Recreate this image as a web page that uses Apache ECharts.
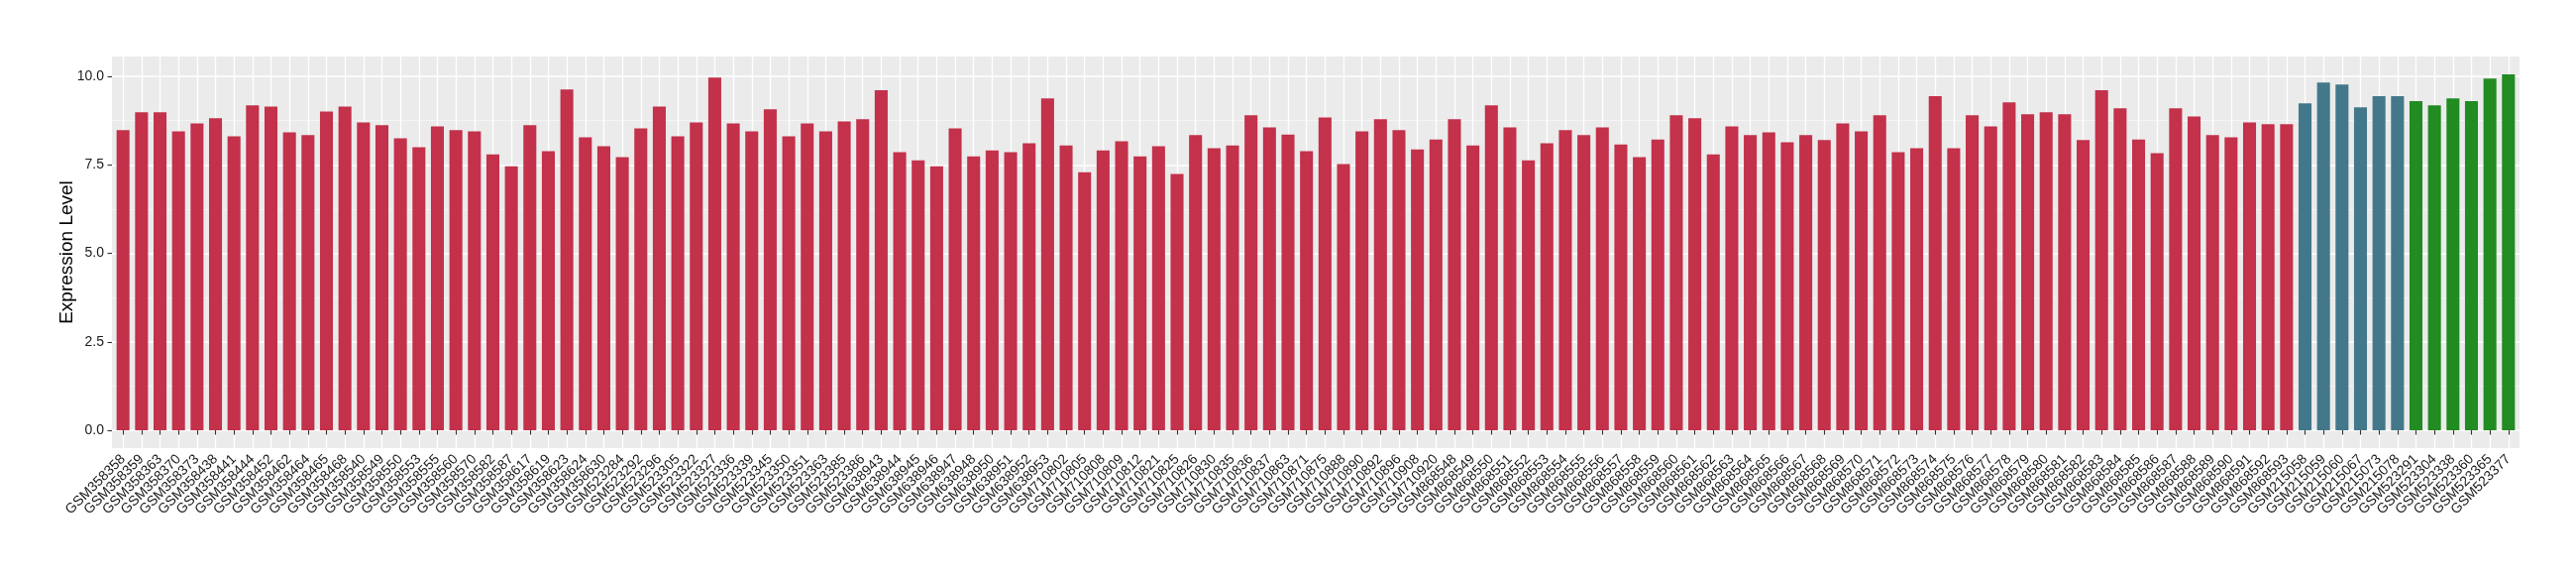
<!DOCTYPE html>
<html>
<head>
<meta charset="utf-8">
<script src="https://cdn.jsdelivr.net/npm/echarts@6/dist/echarts.min.js"></script>
<style>
html,body{margin:0;padding:0;background:#fff;}
#chart{width:2600px;height:580px;}
</style>
</head>
<body>
<div id="chart"></div>
<script>
const categories = [
 "GSM358358","GSM358359","GSM358363","GSM358370","GSM358373","GSM358438","GSM358441","GSM358444","GSM358452","GSM358462",
 "GSM358464","GSM358465","GSM358468","GSM358540","GSM358549","GSM358550","GSM358553","GSM358555","GSM358560","GSM358570",
 "GSM358582","GSM358587","GSM358617","GSM358619","GSM358623","GSM358624","GSM358630",
 "GSM523284","GSM523292","GSM523296","GSM523305","GSM523322","GSM523327","GSM523336","GSM523339","GSM523345","GSM523350",
 "GSM523351","GSM523363","GSM523385","GSM523386",
 "GSM638943","GSM638944","GSM638945","GSM638946","GSM638947","GSM638948","GSM638950","GSM638951","GSM638952","GSM638953",
 "GSM710802","GSM710805","GSM710808","GSM710809","GSM710812","GSM710821","GSM710825","GSM710826","GSM710830","GSM710835",
 "GSM710836","GSM710837","GSM710863","GSM710871","GSM710875","GSM710888","GSM710890","GSM710892","GSM710896","GSM710908","GSM710920",
 "GSM868548","GSM868549","GSM868550","GSM868551","GSM868552","GSM868553","GSM868554","GSM868555","GSM868556","GSM868557",
 "GSM868558","GSM868559","GSM868560","GSM868561","GSM868562","GSM868563","GSM868564","GSM868565","GSM868566","GSM868567",
 "GSM868568","GSM868569","GSM868570","GSM868571","GSM868572","GSM868573","GSM868574","GSM868575","GSM868576","GSM868577",
 "GSM868578","GSM868579","GSM868580","GSM868581","GSM868582","GSM868583","GSM868584","GSM868585","GSM868586","GSM868587",
 "GSM868588","GSM868589","GSM868590","GSM868591","GSM868592","GSM868593",
 "GSM215058","GSM215059","GSM215060","GSM215067","GSM215073","GSM215078",
 "GSM523291","GSM523304","GSM523338","GSM523360","GSM523365","GSM523377"
];
const values = [
 8.48,8.99,8.99,8.45,8.67,8.82,8.31,9.18,9.15,8.42,8.34,9.01,9.15,8.70,8.62,8.25,8.00,8.59,8.48,8.45,7.80,7.46,8.62,7.89,9.63,8.28,
 8.03,7.72,8.53,9.15,8.31,8.70,9.97,8.67,8.45,9.07,8.31,8.67,8.45,8.73,8.79,9.61,7.86,7.63,7.46,8.53,7.74,7.91,7.86,8.11,9.38,8.05,
 7.29,7.91,8.17,7.74,8.03,7.24,8.34,7.97,8.05,8.90,8.56,8.36,7.89,8.84,7.52,8.45,8.79,8.48,7.94,8.22,8.79,8.05,9.18,8.56,7.63,8.11,
 8.48,8.34,8.56,8.08,7.72,8.22,8.90,8.82,7.80,8.59,8.34,8.42,8.14,8.34,8.20,8.67,8.45,8.90,7.86,7.97,9.44,7.97,8.90,8.59,9.27,8.93,8.99,
 8.93,8.20,9.61,9.10,8.22,7.83,9.10,8.87,8.34,8.28,8.70,8.65,8.65,
 9.24,9.83,9.77,9.13,9.44,9.44,
 9.30,9.18,9.38,9.30,9.94,10.06
];
// number of bars in each colour group, in order: 118 red, 6 blue, 6 green
const groupSizes = [118, 6, 6];
const groupColors = ["#C3314A", "#43788B", "#228B22"];
const yTickMin = 0, yTickMax = 10, yTickStep = 2.5;

const groups = [];
groupSizes.forEach((n, g) => { for (let i = 0; i < n; i++) groups.push(g); });

const n = categories.length;
const dataMax = Math.max(...values);
const expand = dataMax * 0.05;
const yMin = -expand, yMax = dataMax + expand;
const xMin = -0.6, xMax = n - 1 + 0.6;
const xIdx = categories.map((c, i) => i);
// label slots: blank guard labels at both ends (hidden as min/max labels)
const xLabelSlots = [xMin].concat(xIdx, [xMax]);

const W = 2600, Hc = 580;
const gLeft = 113, gRight = 57, gTop = 57, gBottom = 128;
const gH = Hc - gTop - gBottom;
const yPix = v => gTop + (yMax - v) / (yMax - yMin) * gH;
// overlay grid spanning exactly the tick range [0, 10] of the same y scale
const oTop = yPix(yTickMax);
const oBottom = Hc - yPix(yTickMin);

const chart = echarts.init(document.getElementById('chart'), null, {renderer: 'canvas'});
const FONT = '"Liberation Sans", Arial, Helvetica, sans-serif';

chart.setOption({
  animation: false,
  backgroundColor: '#ffffff',
  grid: [{
    left: gLeft, right: gRight, top: gTop, bottom: gBottom,
    show: true, backgroundColor: '#EBEBEB', borderWidth: 0,
    containLabel: false, outerBoundsMode: 'none'
  }, {
    left: gLeft, right: gRight, top: oTop, bottom: oBottom,
    show: false, containLabel: false, outerBoundsMode: 'none'
  }],
  xAxis: [{
    gridIndex: 0,
    type: 'value',
    min: xMin, max: xMax,
    axisLine: {show: false},
    axisTick: {show: true, customValues: xIdx, length: 4.5, lineStyle: {color: '#333333', width: 1.1}},
    axisLabel: {
      show: true, customValues: xLabelSlots, rotate: 45, margin: 9,
      hideOverlap: false, showMinLabel: false, showMaxLabel: false,
      formatter: v => {
        const k = Math.round(v);
        return (Math.abs(v - k) < 1e-6 && k >= 0 && k < n) ? categories[k] : ' ';
      },
      color: '#1a1a1a', fontSize: 14, fontFamily: FONT
    },
    splitLine: {show: true, lineStyle: {color: '#ffffff', width: 1.3}},
    z: 1
  }, {
    gridIndex: 1,
    type: 'value', min: 0, max: 1, show: false
  }],
  yAxis: [{
    gridIndex: 0,
    type: 'value',
    min: yMin, max: yMax,
    name: 'Expression Level',
    nameLocation: 'middle',
    nameGap: 36,
    nameRotate: 90,
    nameMoveOverlap: false,
    nameTextStyle: {fontSize: 19, color: '#000000', fontFamily: FONT},
    axisLine: {show: false},
    axisTick: {show: false},
    axisLabel: {show: false},
    splitLine: {show: false}
  }, {
    gridIndex: 1,
    type: 'value',
    min: yTickMin, max: yTickMax, interval: yTickStep,
    axisLine: {show: false},
    axisTick: {show: true, length: 4.5, lineStyle: {color: '#333333', width: 1.1}},
    axisLabel: {
      show: true, margin: 8, showMinLabel: true, showMaxLabel: true,
      formatter: v => v.toFixed(1),
      color: '#1a1a1a', fontSize: 14, fontFamily: FONT
    },
    splitLine: {show: true, lineStyle: {color: '#ffffff', width: 1.6}},
    minorTick: {show: false, splitNumber: 2},
    minorSplitLine: {show: true, lineStyle: {color: '#F7F7F7', width: 0.8}},
    z: 1
  }],
  series: [{
    type: 'bar',
    xAxisIndex: 0,
    yAxisIndex: 0,
    barWidth: '70%',
    data: values.map((v, i) => ({value: [i, v], itemStyle: {color: groupColors[groups[i]]}})),
    z: 3
  }]
});
</script>
</body>
</html>
